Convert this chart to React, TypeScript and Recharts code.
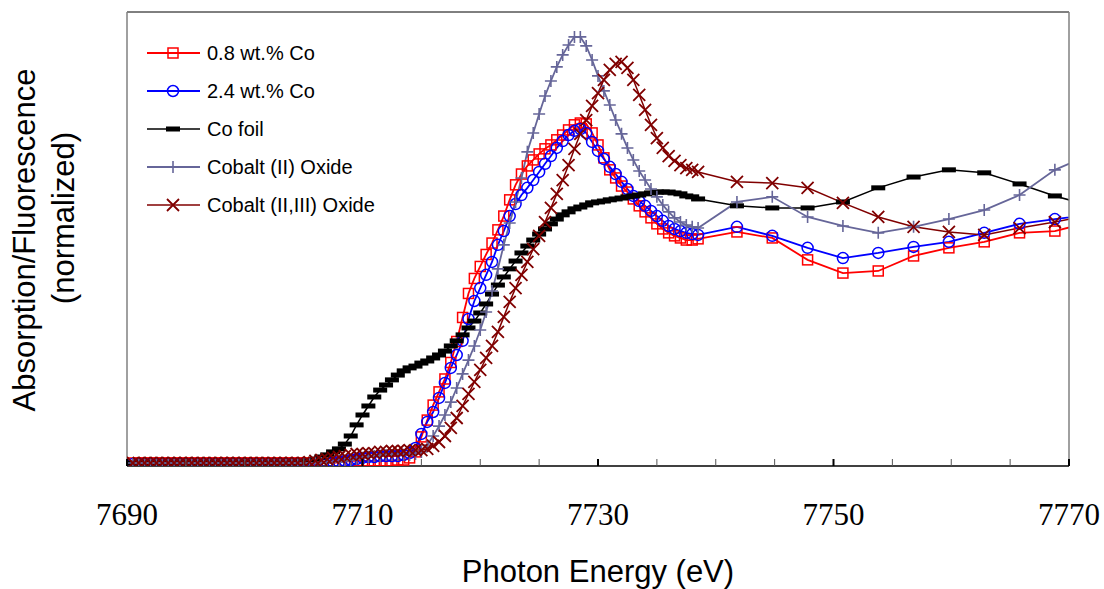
import React from 'react';
import { LineChart, Line, XAxis, YAxis, Legend } from 'recharts';

// Photon energy (eV): dense XANES region, then sparse EXAFS points
const energy = [
  7690.5, 7691, 7691.5, 7692, 7692.5, 7693, 7693.5, 7694, 7694.5, 7695,
  7695.5, 7696, 7696.5, 7697, 7697.5, 7698, 7698.5, 7699, 7699.5, 7700,
  7700.5, 7701, 7701.5, 7702, 7702.5, 7703, 7703.5, 7704, 7704.5, 7705,
  7705.5, 7706, 7706.5, 7707, 7707.5, 7708, 7708.5, 7709, 7709.5, 7710,
  7710.5, 7711, 7711.5, 7712, 7712.5, 7713, 7713.5, 7714, 7714.5, 7715,
  7715.5, 7716, 7716.5, 7717, 7717.5, 7718, 7718.5, 7719, 7719.5, 7720,
  7720.5, 7721, 7721.5, 7722, 7722.5, 7723, 7723.5, 7724, 7724.5, 7725,
  7725.5, 7726, 7726.5, 7727, 7727.5, 7728, 7728.5, 7729, 7729.5, 7730,
  7730.5, 7731, 7731.5, 7732, 7732.5, 7733, 7733.5, 7734, 7734.5, 7735,
  7735.5, 7736, 7736.5, 7737, 7737.5, 7738, 7738.5,
  7741.8, 7744.8, 7747.8, 7750.8, 7753.8, 7756.8, 7759.8, 7762.8, 7765.8, 7768.8, 7771.8,
];

const wt08 = [
  0.010, 0.010, 0.010, 0.010, 0.010, 0.010, 0.010, 0.010, 0.010, 0.010,
  0.010, 0.010, 0.010, 0.010, 0.010, 0.010, 0.010, 0.010, 0.010, 0.010,
  0.010, 0.010, 0.010, 0.010, 0.010, 0.010, 0.010, 0.010, 0.010, 0.010,
  0.010, 0.010, 0.010, 0.010, 0.010, 0.013, 0.013, 0.017, 0.017, 0.017,
  0.017, 0.017, 0.017, 0.017, 0.017, 0.020, 0.020, 0.027, 0.047, 0.097,
  0.153, 0.203, 0.247, 0.290, 0.345, 0.415, 0.495, 0.575, 0.625, 0.665,
  0.705, 0.743, 0.787, 0.833, 0.887, 0.937, 0.973, 1.000, 1.020, 1.040,
  1.057, 1.070, 1.087, 1.103, 1.120, 1.137, 1.143, 1.140, 1.110, 1.070,
  1.027, 0.987, 0.960, 0.933, 0.913, 0.890, 0.867, 0.847, 0.827, 0.807,
  0.790, 0.777, 0.767, 0.760, 0.753, 0.753, 0.757,
  0.780, 0.760, 0.687, 0.643, 0.650, 0.700, 0.727, 0.747, 0.777, 0.783, 0.813,
];

const wt24 = [
  0.007, 0.007, 0.007, 0.007, 0.007, 0.007, 0.007, 0.007, 0.007, 0.007,
  0.007, 0.007, 0.007, 0.007, 0.007, 0.007, 0.007, 0.007, 0.007, 0.007,
  0.007, 0.007, 0.007, 0.007, 0.007, 0.007, 0.007, 0.007, 0.007, 0.007,
  0.007, 0.007, 0.010, 0.010, 0.013, 0.013, 0.017, 0.020, 0.023, 0.027,
  0.030, 0.030, 0.033, 0.033, 0.033, 0.033, 0.037, 0.043, 0.060, 0.107,
  0.147, 0.180, 0.227, 0.277, 0.327, 0.370, 0.417, 0.490, 0.550, 0.593,
  0.637, 0.680, 0.737, 0.783, 0.833, 0.873, 0.903, 0.927, 0.953, 0.980,
  1.007, 1.033, 1.060, 1.083, 1.103, 1.117, 1.123, 1.110, 1.080, 1.050,
  1.023, 0.997, 0.973, 0.947, 0.923, 0.900, 0.883, 0.867, 0.850, 0.833,
  0.817, 0.800, 0.790, 0.783, 0.777, 0.773, 0.770,
  0.797, 0.767, 0.727, 0.693, 0.710, 0.730, 0.747, 0.777, 0.807, 0.823, 0.837,
];

const coFoil = [
  0.010, 0.010, 0.010, 0.010, 0.010, 0.010, 0.010, 0.010, 0.010, 0.010,
  0.010, 0.010, 0.010, 0.010, 0.010, 0.010, 0.010, 0.010, 0.010, 0.010,
  0.010, 0.010, 0.010, 0.010, 0.010, 0.010, 0.010, 0.010, 0.013, 0.013,
  0.017, 0.023, 0.030, 0.037, 0.047, 0.057, 0.073, 0.100, 0.137, 0.170,
  0.200, 0.230, 0.253, 0.270, 0.287, 0.303, 0.317, 0.327, 0.333, 0.343,
  0.350, 0.360, 0.370, 0.383, 0.400, 0.417, 0.437, 0.460, 0.483, 0.510,
  0.540, 0.573, 0.603, 0.630, 0.657, 0.683, 0.710, 0.733, 0.753, 0.773,
  0.790, 0.807, 0.823, 0.837, 0.847, 0.857, 0.863, 0.870, 0.877, 0.880,
  0.883, 0.887, 0.890, 0.893, 0.897, 0.900, 0.903, 0.907, 0.910, 0.913,
  0.913, 0.913, 0.910, 0.907, 0.900, 0.897, 0.890,
  0.867, 0.860, 0.860, 0.880, 0.927, 0.963, 0.987, 0.977, 0.940, 0.900, 0.867,
];

const coO = [
  0.010, 0.010, 0.010, 0.010, 0.010, 0.010, 0.010, 0.010, 0.010, 0.010,
  0.010, 0.010, 0.010, 0.010, 0.010, 0.010, 0.010, 0.010, 0.010, 0.010,
  0.010, 0.010, 0.010, 0.010, 0.010, 0.010, 0.010, 0.010, 0.010, 0.010,
  0.010, 0.010, 0.010, 0.010, 0.013, 0.013, 0.017, 0.020, 0.023, 0.027,
  0.030, 0.033, 0.033, 0.037, 0.037, 0.037, 0.037, 0.037, 0.040, 0.047,
  0.070, 0.100, 0.133, 0.170, 0.213, 0.260, 0.307, 0.353, 0.400, 0.453,
  0.513, 0.583, 0.657, 0.737, 0.810, 0.880, 0.960, 1.047, 1.110, 1.173,
  1.233, 1.283, 1.330, 1.370, 1.403, 1.430, 1.430, 1.400, 1.353, 1.300,
  1.250, 1.203, 1.153, 1.107, 1.060, 1.020, 0.983, 0.953, 0.923, 0.897,
  0.870, 0.847, 0.827, 0.813, 0.803, 0.797, 0.793,
  0.880, 0.897, 0.830, 0.800, 0.777, 0.797, 0.823, 0.853, 0.903, 0.987, 1.037,
];

const co3o4 = [
  0.010, 0.010, 0.010, 0.010, 0.010, 0.010, 0.010, 0.010, 0.010, 0.010,
  0.010, 0.010, 0.010, 0.010, 0.010, 0.010, 0.010, 0.010, 0.010, 0.010,
  0.010, 0.010, 0.010, 0.010, 0.010, 0.010, 0.010, 0.010, 0.010, 0.010,
  0.013, 0.017, 0.020, 0.023, 0.027, 0.030, 0.033, 0.037, 0.040, 0.040,
  0.043, 0.043, 0.047, 0.047, 0.050, 0.050, 0.050, 0.053, 0.053, 0.053,
  0.057, 0.067, 0.080, 0.100, 0.127, 0.160, 0.200, 0.240, 0.280, 0.320,
  0.360, 0.400, 0.447, 0.497, 0.547, 0.593, 0.637, 0.680, 0.723, 0.767,
  0.813, 0.860, 0.907, 0.953, 1.003, 1.057, 1.107, 1.153, 1.200, 1.243,
  1.287, 1.320, 1.340, 1.347, 1.327, 1.287, 1.237, 1.187, 1.137, 1.093,
  1.060, 1.033, 1.017, 1.003, 0.993, 0.987, 0.980,
  0.947, 0.943, 0.927, 0.877, 0.830, 0.797, 0.780, 0.770, 0.793, 0.813, 0.837,
];

const xTicks = [7690, 7695, 7700, 7705, 7710, 7715, 7720, 7725, 7730, 7735, 7740, 7745, 7750, 7755, 7760, 7765, 7770];
const xLabels = [7690, 7710, 7730, 7750, 7770];

const seriesNames = ['0.8 wt.% Co', '2.4 wt.% Co', 'Co foil', 'Cobalt (II) Oxide', 'Cobalt (II,III) Oxide'];

const SERIES = [
  { key: 'wt08', name: seriesNames[0], color: '#FF0000', marker: 'square', width: 1.8 },
  { key: 'wt24', name: seriesNames[1], color: '#0000FF', marker: 'circle', width: 1.8 },
  { key: 'coFoil', name: seriesNames[2], color: '#000000', marker: 'bar', width: 1.5 },
  { key: 'coO', name: seriesNames[3], color: '#666699', marker: 'plus', width: 1.8 },
  { key: 'co3o4', name: seriesNames[4], color: '#800000', marker: 'cross', width: 1.5 },
];

const rows = energy.map((e, i) => ({
  e,
  wt08: wt08[i],
  wt24: wt24[i],
  coFoil: coFoil[i],
  coO: coO[i],
  co3o4: co3o4[i],
}));

const SANS = "'Liberation Sans', Arial, Helvetica, sans-serif";
const SERIF = "'Liberation Serif', 'Times New Roman', serif";

function Marker({ kind, color, cx, cy }: { kind: string; color: string; cx: number; cy: number }) {
  if (cx == null || cy == null) return null;
  switch (kind) {
    case 'square':
      return <rect x={cx - 5} y={cy - 5} width={10} height={10} fill="none" stroke={color} strokeWidth={1.5} />;
    case 'circle':
      return <circle cx={cx} cy={cy} r={5.5} fill="none" stroke={color} strokeWidth={1.5} />;
    case 'bar':
      return <rect x={cx - 7} y={cy - 2.5} width={14} height={5} fill={color} />;
    case 'plus':
      return <path d={`M${cx - 6},${cy}H${cx + 6}M${cx},${cy - 6}V${cy + 6}`} stroke={color} strokeWidth={1.6} fill="none" />;
    case 'cross':
      return <path d={`M${cx - 6},${cy - 6}L${cx + 6},${cy + 6}M${cx - 6},${cy + 6}L${cx + 6},${cy - 6}`} stroke={color} strokeWidth={1.8} fill="none" />;
    default:
      return null;
  }
}

const XTick = (props: any) => {
  const { x, y, payload } = props;
  const major = xLabels.includes(payload.value);
  return (
    <g>
      <line x1={x} y1={y} x2={x} y2={y - 7} stroke={major ? '#000' : '#555'} strokeWidth={major ? 2 : 1} />
      {major && (
        <text x={x} y={y + 59} textAnchor="middle" fontFamily={SERIF} fontSize={31} fill="#000">
          {payload.value}
        </text>
      )}
    </g>
  );
};

const XTitle = (props: any) => {
  const vb = props.viewBox;
  return (
    <text x={vb.x + vb.width / 2} y={vb.y + 116} textAnchor="middle" fontFamily={SANS} fontSize={31} fill="#000">
      Photon Energy (eV)
    </text>
  );
};

const YTitle = (props: any) => {
  const vb = props.viewBox;
  const right = vb.x + vb.width;
  const mid = vb.y + vb.height / 2;
  return (
    <g fontFamily={SANS} fontSize={31} fill="#000">
      <text transform={`translate(${right - 92}, ${mid + 1}) rotate(-90)`} textAnchor="middle">
        Absorption/Fluorescence
      </text>
      <text transform={`translate(${right - 53}, ${mid - 21}) rotate(-90)`} textAnchor="middle">
        (normalized)
      </text>
    </g>
  );
};

const LegendBox = () => (
  <svg width={420} height={230} style={{ display: 'block', overflow: 'visible' }}>
    {SERIES.map((s, i) => {
      const y = 53 + 38 * i;
      return (
        <g key={s.key}>
          <line x1={147} y1={y} x2={200} y2={y} stroke={s.color} strokeWidth={s.width} />
          <Marker kind={s.marker} color={s.color} cx={173} cy={y} />
          <text x={207} y={y + 7} fontFamily={SANS} fontSize={20} fill="#000">
            {s.name}
          </text>
        </g>
      );
    })}
  </svg>
);

export default function App() {
  return (
    <div style={{ position: 'absolute', left: 0, top: 0, width: 1104, height: 589, background: '#fff' }}>
      <LineChart width={1104} height={589} data={rows} margin={{ top: 11, right: 34, left: 126, bottom: 63 }}>
        <XAxis
          xAxisId="b"
          dataKey="e"
          type="number"
          domain={[7690, 7770]}
          allowDataOverflow
          ticks={xTicks}
          interval={0}
          tickSize={0}
          tickMargin={0}
          tickLine={false}
          tick={<XTick />}
          height={60}
          axisLine={{ stroke: '#000', strokeWidth: 1.5 }}
          label={{ content: <XTitle /> }}
        />
        <XAxis
          xAxisId="t"
          orientation="top"
          dataKey="e"
          type="number"
          domain={[7690, 7770]}
          allowDataOverflow
          height={1}
          tick={false}
          tickLine={false}
          axisLine={{ stroke: '#000', strokeWidth: 1 }}
        />
        <YAxis
          yAxisId="l"
          type="number"
          domain={[0, 1.513]}
          allowDataOverflow
          width={1}
          tick={false}
          tickLine={false}
          axisLine={{ stroke: '#808080', strokeWidth: 1.5 }}
          label={{ content: <YTitle /> }}
        />
        <YAxis
          yAxisId="r"
          orientation="right"
          type="number"
          domain={[0, 1]}
          width={1}
          tick={false}
          tickLine={false}
          axisLine={{ stroke: '#808080', strokeWidth: 1.5 }}
        />
        <Legend
          layout="vertical"
          align="center"
          verticalAlign="middle"
          wrapperStyle={{ left: 0, top: 0, width: 420, height: 230 }}
          content={<LegendBox />}
        />
        {SERIES.map((s) => (
          <Line
            key={s.key}
            xAxisId="b"
            yAxisId="l"
            type="linear"
            dataKey={s.key}
            name={s.name}
            stroke={s.color}
            strokeWidth={s.width}
            dot={(p: any) => <Marker key={`${s.key}-${p.index}`} kind={s.marker} color={s.color} cx={p.cx} cy={p.cy} />}
            activeDot={false}
            isAnimationActive={false}
          />
        ))}
      </LineChart>
    </div>
  );
}
